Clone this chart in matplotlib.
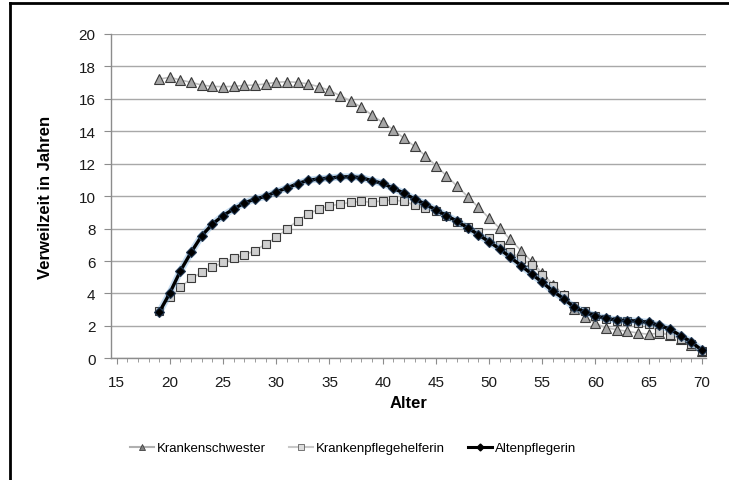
import matplotlib
matplotlib.use("Agg")
import matplotlib.pyplot as plt
from matplotlib.lines import Line2D
from matplotlib.ticker import MultipleLocator

plt.rcParams['font.family'] = ['Liberation Sans', 'DejaVu Sans']

ages = list(range(19, 71))

krankenschwester = [17.22, 17.33, 17.16, 17.02, 16.85, 16.77, 16.75, 16.77, 16.83, 16.85,
                    16.92, 17.02, 17.06, 17.02, 16.92, 16.75, 16.52, 16.20, 15.87, 15.48,
                    15.00, 14.55, 14.10, 13.57, 13.07, 12.50, 11.88, 11.26, 10.61, 9.97,
                    9.31, 8.65, 8.02, 7.33, 6.64, 5.97, 5.25, 4.55, 3.90, 3.04,
                    2.55, 2.15, 1.88, 1.77, 1.66, 1.56, 1.48, 1.55, 1.45, 1.20,
                    0.85, 0.45]

krankenpflegehelferin = [2.90, 3.76, 4.38, 4.93, 5.30, 5.61, 5.92, 6.17, 6.37, 6.64,
                         7.05, 7.46, 7.97, 8.49, 8.90, 9.21, 9.41, 9.50, 9.62, 9.68,
                         9.62, 9.72, 9.76, 9.68, 9.45, 9.25, 9.08, 8.80, 8.42, 8.08,
                         7.77, 7.40, 6.99, 6.57, 6.12, 5.75, 5.15, 4.48, 3.90, 3.20,
                         2.90, 2.60, 2.45, 2.30, 2.28, 2.20, 2.10, 1.60, 1.45, 1.20,
                         0.90, 0.45]

altenpflegerin = [2.84, 4.03, 5.40, 6.54, 7.56, 8.28, 8.80, 9.21, 9.58, 9.82,
                  9.99, 10.27, 10.50, 10.77, 10.98, 11.06, 11.12, 11.18, 11.20, 11.14,
                  10.95, 10.79, 10.48, 10.19, 9.82, 9.52, 9.15, 8.80, 8.45, 8.04,
                  7.62, 7.19, 6.74, 6.23, 5.72, 5.20, 4.69, 4.14, 3.68, 3.14,
                  2.86, 2.61, 2.47, 2.35, 2.33, 2.29, 2.22, 2.03, 1.80, 1.40,
                  1.02, 0.50]

labels = ["Krankenschwester", "Krankenpflegehelferin", "Altenpflegerin"]

W, H = 729, 481
fig = plt.figure(figsize=(W / 100, H / 100), dpi=100)
left, right, top, bottom = 110.7, 706, 35, 359.3
ax = fig.add_axes([left / W, 1 - bottom / H, (right - left) / W, (bottom - top) / H])

ax.plot(ages, krankenschwester, color='#c0c0c0', lw=1.2, marker='^', ms=7.5,
        mfc='#a6a6a6', mec='#3a3a3a', mew=0.8, zorder=3)
ax.plot(ages, krankenpflegehelferin, color='#c8c8c8', lw=1.2, marker='s', ms=6,
        mfc='#cfcfcf', mec='#3a3a3a', mew=0.8, zorder=4)
ax.plot(ages, altenpflegerin, color='#5b9bd5', lw=5, alpha=0.35, zorder=5,
        solid_capstyle='round')
ax.plot(ages, altenpflegerin, color='black', lw=2.4, marker='D', ms=5,
        mfc='black', mec='#1f3550', mew=0.8, zorder=6)

ax.set_xlim(14.44, 70.39)
ax.set_ylim(0, 20)
ax.xaxis.set_major_locator(MultipleLocator(5))
ax.xaxis.set_minor_locator(MultipleLocator(1))
ax.yaxis.set_major_locator(MultipleLocator(2))
ax.yaxis.grid(True, color='#a8a8a8', lw=1)
ax.set_axisbelow(True)
for s in ['top', 'right']:
    ax.spines[s].set_visible(False)
for s in ['left', 'bottom']:
    ax.spines[s].set_color('#8c8c8c')
    ax.spines[s].set_linewidth(1)
ax.tick_params(axis='both', which='both', direction='out', color='#8c8c8c',
               labelsize=11, labelcolor='#1a1a1a')
ax.tick_params(axis='x', which='major', length=4, pad=8)
ax.tick_params(axis='x', which='minor', length=3)
ax.tick_params(axis='y', which='major', length=5, pad=6)

ax.set_xlabel("Alter", fontsize=12, fontweight='bold', labelpad=4)
ax.set_ylabel("Verweilzeit in Jahren", fontsize=12, fontweight='bold', labelpad=18)

handles = [
    Line2D([], [], color='#b0b0b0', lw=1.5, marker='^', ms=5, mfc='#808080', mec='#404040', mew=0.6),
    Line2D([], [], color='#c8c8c8', lw=1.5, marker='s', ms=4.5, mfc='#dcdcdc', mec='#606060', mew=0.6),
    Line2D([], [], color='black', lw=2.2, marker='D', ms=3.5, mfc='black', mec='black'),
]
fig.legend(handles, labels, loc='center', bbox_to_anchor=(353 / W, 1 - 449 / H), ncol=3,
           frameon=False, fontsize=9.5, handlelength=1.8, handletextpad=0.2,
           columnspacing=1.8)

# figure border (top and left edges visible)
fig.add_artist(Line2D([10 / W, 1], [1 - 4 / H, 1 - 4 / H], color='black', lw=2,
                      transform=fig.transFigure))
fig.add_artist(Line2D([10 / W, 10 / W], [0, 1 - 4 / H], color='black', lw=2,
                      transform=fig.transFigure))

fig.savefig("out.png", dpi=100)
